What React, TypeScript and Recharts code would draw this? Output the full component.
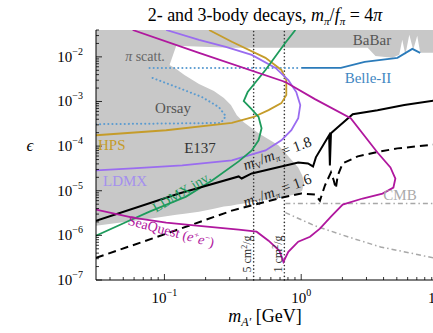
import React from "react";
import { ComposedChart, Line, Area, XAxis, YAxis, ReferenceLine } from "recharts";

const FONT = "'Liberation Serif', 'DejaVu Serif', serif";

// axis ticks (GeV on x, epsilon on y)
const xTicks = [
  0.04, 0.05, 0.06, 0.07, 0.08, 0.09, 0.1,
  0.2, 0.3, 0.4, 0.5, 0.6, 0.7, 0.8, 0.9, 1,
  2, 3, 4, 5, 6, 7, 8, 9, 10,
];
const yTicks = [
  1e-7, 2e-7, 3e-7, 4e-7, 5e-7, 6e-7, 7e-7, 8e-7, 9e-7,
  1e-6, 2e-6, 3e-6, 4e-6, 5e-6, 6e-6, 7e-6, 8e-6, 9e-6,
  1e-5, 2e-5, 3e-5, 4e-5, 5e-5, 6e-5, 7e-5, 8e-5, 9e-5,
  1e-4, 2e-4, 3e-4, 4e-4, 5e-4, 6e-4, 7e-4, 8e-4, 9e-4,
  1e-3, 2e-3, 3e-3, 4e-3, 5e-3, 6e-3, 7e-3, 8e-3, 9e-3,
  1e-2, 2e-2, 3e-2, 4e-2,
];
const xDomain = [0.0316, 10];
const yDomain = [1e-7, 0.04];

// gray excluded regions: [x, lower edge, upper edge]
const babarRegion: [number, number, number][] = [
  [0.0316, 0.0066, 0.04], [0.109, 0.0066, 0.04], [0.122, 0.0177, 0.04],
  [0.296, 0.016, 0.04], [3.06, 0.016, 0.04], [3.49, 0.0105, 0.04],
  [4.64, 0.0095, 0.04], [5.21, 0.0111, 0.04], [5.48, 0.0241, 0.04],
  [5.77, 0.0111, 0.04], [6.17, 0.0313, 0.04], [6.59, 0.0144, 0.04],
  [7.05, 0.0297, 0.04], [7.41, 0.0123, 0.04], [10, 0.0123, 0.04],
];
const beamDumpRegion: [number, number, number][] = [
  [0.0316, 1.64e-6, 0.04], [0.0778, 2.36e-6, 0.04], [0.109, 2.76e-6, 0.0066],
  [0.122, 2.91e-6, 0.00537], [0.14, 3.06e-6, 0.00394], [0.179, 3.4e-6, 0.00247],
  [0.23, 3.97e-6, 0.00172], [0.272, 4.41e-6, 0.00119], [0.306, 4.64e-6, 8.3e-4],
  [0.338, 4.89e-6, 4.9e-4], [0.38, 5.15e-6, 3.44e-4], [0.488, 6.0e-6, 1.94e-4],
  [0.681, 7.0e-6, 1.04e-4], [0.832, 7.8e-6, 5.3e-5], [0.951, 8.65e-6, 3.33e-5],
  [1.017, 1.01e-5, 2.2e-5], [1.05, 1.53e-5, 1.53e-5],
];

// curves: [m_A' (GeV), epsilon]
const seaQuest: [number, number][] = [
  [0.0586, 0.04], [0.179, 0.0123], [0.766, 0.00274], [1.26, 0.00113], [2.3, 4.2e-4],
  [3.61, 7.2e-5], [4.49, 3.33e-5], [4.88, 1.88e-5], [4.72, 1.18e-5], [3.93, 8.65e-6],
  [2.81, 6.7e-6], [2.01, 4.89e-6], [1.65, 2.62e-6], [1.37, 1.41e-6], [1.16, 9.3e-7],
  [0.951, 7.2e-7], [0.805, 4.27e-7], [0.741, 2.54e-7], [0.693, 4.5e-7], [0.577, 7.6e-7],
  [0.472, 1.21e-6], [0.349, 1.34e-6], [0.179, 1.64e-6], [0.103, 1.92e-6],
  [0.0586, 2.49e-6], [0.0316, 3.77e-6],
];
const relic18: [number, number][] = [
  [0.0316, 2.13e-6], [0.128, 8.65e-6], [0.349, 2.09e-5], [0.367, 1.88e-5], [0.435, 2.44e-5],
  [0.951, 4.3e-5], [1.12, 4.1e-5], [1.22, 3.5e-5], [1.28, 5.6e-5], [1.52, 1.35e-4],
  [1.6, 1.75e-4], [1.62, 3.7e-5], [1.65, 1.94e-4], [1.85, 2.65e-4], [2.38, 5.2e-4],
  [3.61, 6.4e-4], [5.67, 8.3e-4], [10, 1.08e-3],
];
const relic16: [number, number][] = [
  [0.0316, 3.13e-7], [0.103, 1.09e-6], [0.311, 3.58e-6], [0.716, 7.0e-6], [1.0, 8.65e-6],
  [1.26, 8.2e-6], [1.37, 6.0e-6], [1.49, 1.31e-5], [1.65, 2.57e-5], [1.73, 1.7e-5],
  [1.79, 1.12e-5], [1.85, 2.2e-5], [2.01, 4.1e-5], [2.59, 5.9e-5], [3.8, 7.6e-5],
  [5.05, 8.9e-5], [10, 1.1e-4],
];
const ldmxInv: [number, number][] = [
  [0.0316, 9.8e-7], [0.0531, 2.02e-6], [0.0778, 3.4e-6], [0.144, 7.4e-6], [0.223, 1.7e-5],
  [0.349, 4.55e-5], [0.435, 8.0e-5], [0.488, 1.35e-4], [0.513, 2.52e-4], [0.488, 4.5e-4],
  [0.427, 7.1e-4], [0.38, 1.02e-3], [0.406, 1.63e-3], [0.548, 5.09e-3], [0.766, 0.0207],
  [0.906, 0.04],
];
const ldmx: [number, number][] = [
  [0.103, 0.04], [0.179, 0.0241], [0.281, 0.0168], [0.435, 0.0111], [0.649, 0.00565],
  [0.805, 0.00303], [0.92, 0.00163], [0.984, 8.3e-4], [0.951, 4.2e-4], [0.847, 2.27e-4],
  [0.716, 1.35e-4], [0.548, 8.0e-5], [0.311, 4.8e-5], [0.135, 3.7e-5], [0.0586, 3.16e-5],
  [0.0316, 2.85e-5],
];
const hps: [number, number][] = [
  [0.212, 0.04], [0.311, 0.0218], [0.548, 0.0095], [0.716, 0.00509], [0.778, 0.00303],
  [0.778, 0.00139], [0.716, 9.2e-4], [0.577, 6.4e-4], [0.449, 4.5e-4], [0.311, 3.3e-4],
  [0.103, 2.27e-4], [0.0316, 1.75e-4],
];
const belleDotted: [number, number][] = [[0.0778, 0.00565], [0.951, 0.00565]];
const belle2: [number, number][] = [
  [1.0, 0.00565], [1.95, 0.00565], [2.91, 0.0077], [5.05, 0.0095], [6.49, 0.0151], [7.41, 0.0123],
];
const orsay: [number, number][] = [
  [0.0819, 0.00337], [0.128, 0.002], [0.188, 0.00126], [0.25, 7.5e-4], [0.281, 4.7e-4],
  [0.259, 3.3e-4], [0.0316, 3.1e-4],
];
const cmbFlat: [number, number][] = [[0.766, 5.15e-6], [10, 5.15e-6]];
const cmbSlope: [number, number][] = [
  [0.766, 3.23e-6], [1.26, 1.64e-6], [2.19, 9.3e-7], [3.8, 5.5e-7], [6.7, 3.86e-7], [10, 2.97e-7],
];
// SIDM cross-section lines (GeV)
const sidm5 = 0.449;
const sidm1 = 0.753;

const pts = (a: [number, number][]) => a.map(([x, y]) => ({ x, y }));
const band = (a: [number, number, number][]) => a.map(([x, lo, hi]) => ({ x, range: [lo, hi] }));

const isMajor = (v: number) => {
  const e = Math.log10(v);
  return Math.abs(e - Math.round(e)) < 1e-6;
};
const expText = (v: number) => {
  const e = Math.round(Math.log10(v));
  return e < 0 ? `\u2212${-e}` : `${e}`;
};

const BottomTick = (props: any) => {
  const { x, y, payload } = props;
  const major = isMajor(payload.value);
  return (
    <g>
      <line x1={x} x2={x} y1={y} y2={y - (major ? 6 : 3)} stroke="#000" strokeWidth={0.8} />
      {major && (
        <text x={x} y={y + 23} textAnchor="middle" fontFamily={FONT} fontSize={15} fill="#000">
          10<tspan dy={-7} fontSize={10}>{expText(payload.value)}</tspan>
        </text>
      )}
    </g>
  );
};

const TopTick = (props: any) => {
  const { x, y, payload } = props;
  const major = isMajor(payload.value);
  return <line x1={x} x2={x} y1={y} y2={y + (major ? 6 : 3)} stroke="#000" strokeWidth={0.8} />;
};

const LeftTick = (props: any) => {
  const { x, y, payload } = props;
  const major = isMajor(payload.value);
  return (
    <g>
      <line x1={x} x2={x + (major ? 6 : 3)} y1={y} y2={y} stroke="#000" strokeWidth={0.8} />
      {major && (
        <text x={x - 13} y={y + 5} textAnchor="end" fontFamily={FONT} fontSize={15} fill="#000">
          10<tspan dy={-7} fontSize={10}>{expText(payload.value)}</tspan>
        </text>
      )}
    </g>
  );
};

const curve = (data: [number, number][], color: string, extra: any = {}) => (
  <Line
    data={pts(data)}
    dataKey="y"
    type="linear"
    stroke={color}
    strokeWidth={1.8}
    dot={false}
    activeDot={false}
    isAnimationActive={false}
    {...extra}
  />
);

const dotted = { strokeDasharray: "0.1 4", strokeLinecap: "round", strokeWidth: 2 };

function Ratio({ v }: { v: string }) {
  return (
    <>
      <tspan fontStyle="italic">m</tspan>
      <tspan fontSize={9} dy={3}>V</tspan>
      <tspan dy={-3}>/</tspan>
      <tspan fontStyle="italic">m</tspan>
      <tspan fontSize={9} dy={3} fontStyle="italic">π</tspan>
      <tspan dy={-3}>{` = ${v}`}</tspan>
    </>
  );
}

export default function App() {
  return (
    <div
      style={{
        position: "absolute",
        left: 0,
        top: 0,
        width: 433,
        height: 333,
        overflow: "hidden",
        background: "#fff",
      }}
    >
      <ComposedChart width={450} height={333} margin={{ top: 30, right: 12, bottom: 0, left: 0 }}>
        <XAxis
          dataKey="x"
          type="number"
          scale="log"
          domain={xDomain}
          allowDataOverflow
          ticks={xTicks}
          interval={0}
          height={53}
          tickSize={0}
          tickMargin={0}
          tickLine={false}
          axisLine={{ stroke: "#000" }}
          tick={<BottomTick />}
        />
        <XAxis
          xAxisId="top"
          orientation="top"
          type="number"
          scale="log"
          domain={xDomain}
          allowDataOverflow
          ticks={xTicks}
          interval={0}
          height={0}
          tickSize={0}
          tickMargin={0}
          tickLine={false}
          axisLine={{ stroke: "#000" }}
          tick={<TopTick />}
        />
        <YAxis
          type="number"
          scale="log"
          domain={yDomain}
          allowDataOverflow
          ticks={yTicks}
          interval={0}
          width={96}
          tickSize={0}
          tickMargin={0}
          tickLine={false}
          axisLine={{ stroke: "#000" }}
          tick={<LeftTick />}
        />

        <Area data={band(babarRegion)} dataKey="range" type="linear" stroke="none" fill="#c8c8c8" fillOpacity={1} isAnimationActive={false} />
        <Area data={band(beamDumpRegion)} dataKey="range" type="linear" stroke="none" fill="#c8c8c8" fillOpacity={1} isAnimationActive={false} />

        <ReferenceLine x={sidm5} stroke="#333" strokeWidth={1.6} strokeDasharray="0.1 3.5" strokeLinecap="round" />
        <ReferenceLine x={sidm1} stroke="#333" strokeWidth={1.6} strokeDasharray="0.1 3.5" strokeLinecap="round" />

        {curve(cmbFlat, "#a8a8a8", { strokeWidth: 1.5, strokeDasharray: "5 3 1.5 3" })}
        {curve(cmbSlope, "#a8a8a8", { strokeWidth: 1.5, strokeDasharray: "5 3 1.5 3" })}
        {curve(orsay, "#5a9bd0", dotted)}
        {curve(belleDotted, "#5a9bd0", dotted)}
        {curve(belle2, "#2b7bba")}
        {curve(hps, "#c59c2a")}
        {curve(ldmx, "#9a6cf0")}
        {curve(ldmxInv, "#1e9b5c")}
        {curve(relic16, "#000", { strokeWidth: 2, strokeDasharray: "8 5" })}
        {curve(relic18, "#000", { strokeWidth: 2 })}
        {curve(seaQuest, "#b0179e")}
      </ComposedChart>

      <svg
        width={433}
        height={333}
        style={{ position: "absolute", left: 0, top: 0, pointerEvents: "none" }}
        fontFamily={FONT}
      >
        <text x={265} y={21} textAnchor="middle" fontSize={18} fill="#000">
          2- and 3-body decays,{" "}
          <tspan fontStyle="italic">m</tspan>
          <tspan fontSize={11} dy={4} fontStyle="italic">π</tspan>
          <tspan dy={-4}>/</tspan>
          <tspan fontStyle="italic">f</tspan>
          <tspan fontSize={11} dy={4} fontStyle="italic">π</tspan>
          <tspan dy={-4}> = 4</tspan>
          <tspan fontStyle="italic">π</tspan>
        </text>
        <text x={265} y={322} textAnchor="middle" fontSize={18} fill="#000">
          <tspan fontStyle="italic">m</tspan>
          <tspan fontSize={12} dy={4} fontStyle="italic">A′</tspan>
          <tspan dy={-4}> [GeV]</tspan>
        </text>
        <text x={30} y={151} textAnchor="middle" fontSize={17} fontStyle="italic" fill="#000">ϵ</text>

        <text x={145} y={61} textAnchor="middle" fontSize={14} fill="#666">
          <tspan fontStyle="italic">π</tspan> scatt.
        </text>
        <text x={372} y={45} textAnchor="middle" fontSize={15} fill="#555">BaBar</text>
        <text x={368} y={83} textAnchor="middle" fontSize={15} fill="#3f87c2">Belle-II</text>
        <text x={173} y={113} textAnchor="middle" fontSize={15} fill="#555">Orsay</text>
        <text x={200} y={153} textAnchor="middle" fontSize={15} fill="#333">E137</text>
        <text x={98} y={150} fontSize={15} fill="#c59c2a">HPS</text>
        <text x={103} y={186} fontSize={15} fill="#a590ee">LDMX</text>
        <text x={400} y={200} textAnchor="middle" fontSize={15} fill="#aaa">CMB</text>
        <text transform="translate(184,196) rotate(-31)" textAnchor="middle" fontSize={14} fill="#1e9b5c">
          LDMX inv.
        </text>
        <text transform="translate(170,236) rotate(15)" textAnchor="middle" fontSize={14} fill="#b0179e">
          SeaQuest (<tspan fontStyle="italic">e</tspan>
          <tspan fontSize={9} dy={-5}>+</tspan>
          <tspan dy={5} fontStyle="italic">e</tspan>
          <tspan fontSize={9} dy={-5}>−</tspan>
          <tspan dy={5}>)</tspan>
        </text>
        <text transform="translate(279,158) rotate(-20)" textAnchor="middle" fontSize={15} fill="#222">
          <Ratio v="1.8" />
        </text>
        <text transform="translate(279,195) rotate(-20)" textAnchor="middle" fontSize={15} fill="#222">
          <Ratio v="1.6" />
        </text>
        <text transform="translate(251,254) rotate(-90)" textAnchor="middle" fontSize={12} fill="#333">
          5 cm<tspan fontSize={8} dy={-4}>2</tspan><tspan dy={4}>/g</tspan>
        </text>
        <text transform="translate(282,254) rotate(-90)" textAnchor="middle" fontSize={12} fill="#333">
          1 cm<tspan fontSize={8} dy={-4}>2</tspan><tspan dy={4}>/g</tspan>
        </text>
      </svg>
    </div>
  );
}
